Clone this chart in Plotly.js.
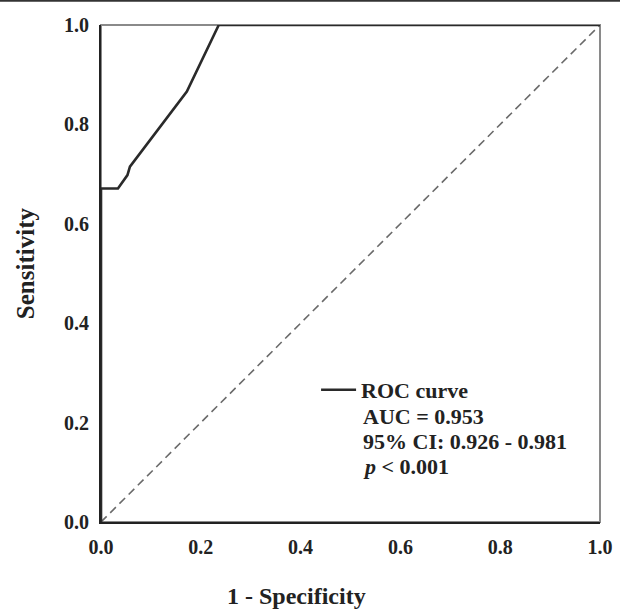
<!DOCTYPE html>
<html>
<head>
<meta charset="utf-8">
<script src="https://cdn.plot.ly/plotly-3.0.1.min.js"></script>
<style>html,body{margin:0;padding:0;background:#fff;}#chart{width:620px;height:609px;}</style>
</head>
<body>
<div id="chart"></div>
<script>
// ROC curve points (1 - specificity, sensitivity)
const fpr = [0, 0, 0.034, 0.053, 0.058, 0.172, 0.236, 1];
const tpr = [0, 0.671, 0.671, 0.698, 0.715, 0.866, 1, 1];
// reference diagonal
const refX = [0, 1];
const refY = [0, 1];
const tickVals = [0, 0.2, 0.4, 0.6, 0.8, 1.0];
const tickText = ["0.0", "0.2", "0.4", "0.6", "0.8", "1.0"];
const statsLines = ["AUC = 0.953", "95% CI: 0.926 - 0.981", "<i>p</i> &lt; 0.001"];
const statsY = [0.2119, 0.1616, 0.1113];

const FONT = "Liberation Serif, Times New Roman, serif";

const traces = [
  {x: refX, y: refY, mode: "lines", line: {color: "#6a6a6a", width: 1.6, dash: "8px,5px"}, showlegend: false, hoverinfo: "skip"},
  {x: fpr, y: tpr, mode: "lines", name: "<b>ROC curve</b>", line: {color: "#2a2a2a", width: 2.6}, cliponaxis: false}
];

const annotations = statsLines.map((s, i) => ({
  xref: "paper", yref: "paper", x: 0.521, y: statsY[i], xanchor: "left", yanchor: "middle",
  align: "left", showarrow: false, text: "<b>" + s + "</b>",
  font: {family: FONT, size: 22, color: "#222"}
}));
annotations.push({
  xref: "paper", yref: "paper", x: (296 - 101) / 499, y: -0.149, xanchor: "center", yanchor: "middle",
  showarrow: false, text: "<b>1 - Specificity</b>", font: {family: FONT, size: 24, color: "#222"}
});
annotations.push({
  xref: "paper", yref: "paper", x: -0.152, y: (522 - 263) / 497, xanchor: "center", yanchor: "middle",
  showarrow: false, textangle: -90, text: "<b>Sensitivity</b>", font: {family: FONT, size: 25, color: "#222"}
});

const layout = {
  width: 620, height: 609,
  margin: {l: 101, r: 20, t: 25, b: 87},
  paper_bgcolor: "#fff", plot_bgcolor: "#fff",
  font: {family: FONT, color: "#222"},
  xaxis: {
    range: [0, 1], tickvals: tickVals, ticktext: tickText, showgrid: false, zeroline: false,
    showline: true, linecolor: "#222", linewidth: 2, ticks: "", ticklabelstandoff: 6,
    tickfont: {family: FONT, size: 20, color: "#222", weight: "bold"}
  },
  yaxis: {
    range: [0, 1], tickvals: tickVals, ticktext: tickText, showgrid: false, zeroline: false,
    showline: true, linecolor: "#222", linewidth: 2, ticks: "", ticklabelstandoff: 6,
    tickfont: {family: FONT, size: 20, color: "#222", weight: "bold"}
  },
  showlegend: true,
  legend: {
    x: 0.431, y: 0.2656, xanchor: "left", yanchor: "middle", bgcolor: "rgba(0,0,0,0)",
    font: {family: FONT, size: 22, color: "#222"}, itemwidth: 35, tracegroupgap: 0
  },
  annotations: annotations,
  shapes: [
    {type: "rect", xref: "paper", yref: "paper", x0: 0, x1: 1, y0: 0, y1: 1, layer: "below",
     line: {color: "#8a8a8a", width: 2}},
    {type: "rect", xref: "paper", yref: "paper", x0: -0.21, x1: 1.05, y0: 1.047, y1: 1.06, layer: "above",
     fillcolor: "#333", line: {width: 0}}
  ]
};

Plotly.newPlot("chart", traces, layout, {displayModeBar: false, staticPlot: true});
</script>
</body>
</html>
